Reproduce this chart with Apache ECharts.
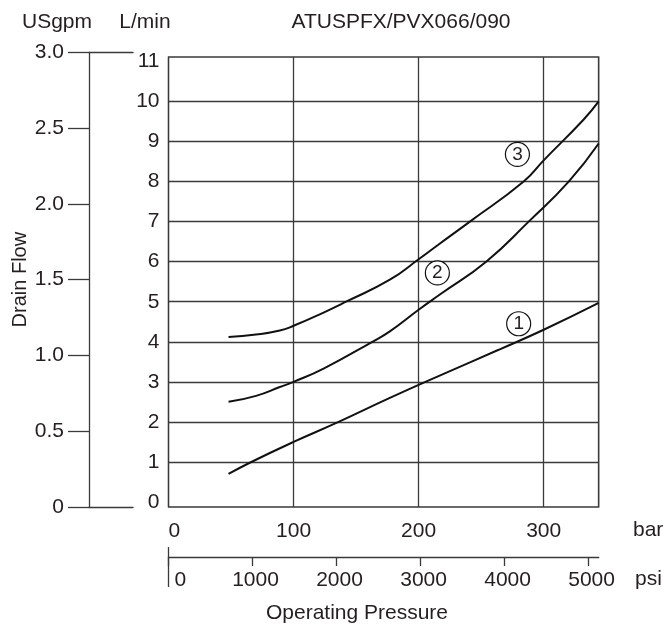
<!DOCTYPE html>
<html><head><meta charset="utf-8">
<script src="https://cdn.jsdelivr.net/npm/echarts@6/dist/echarts.min.js"></script>
<style>html,body{margin:0;padding:0;background:#fff}#c{width:667px;height:634px}</style>
</head><body><div id="c"></div>
<script>
// ---- data ----
const chartTitle = 'ATUSPFX/PVX066/090';
const curve1Pressure = [48, 65, 100, 136, 177, 220, 264, 300, 344];
const curve1Flow     = [0.7, 0.98, 1.5, 2.0, 2.6, 3.2, 3.8, 4.3, 4.97];
const curve2Pressure = [48, 70, 89, 100, 124, 163, 177, 200, 217, 254, 288, 320, 344];
const curve2Flow     = [2.5, 2.65, 2.87, 3.0, 3.33, 4.0, 4.26, 4.8, 5.18, 6.0, 7.0, 8.0, 8.95];
const curve3Pressure = [48, 70, 89, 100, 124, 142, 177, 200, 216, 241, 284, 300, 332, 344];
const curve3Flow     = [4.12, 4.18, 4.28, 4.4, 4.73, 5.0, 5.55, 6.06, 6.43, 7.0, 8.0, 8.53, 9.55, 10.0];
const markerLabels   = ['1', '2', '3'];
const markerPressure = [280, 215, 279];
const markerFlow     = [4.45, 5.72, 8.68];
const lminTicks  = [1, 2, 3, 4, 5, 6, 7, 8, 9, 10];
const lminLabels = [0, 1, 2, 3, 4, 5, 6, 7, 8, 9, 10, 11];
const barMax = 344, psiMax = 5120, gpmMax = 3;

// ---- style ----
const FONT = "'Liberation Sans', Arial, sans-serif";
const TXT = '#231f20', LINE = '#3a3a3a';
const txt = (size) => ({ fontFamily: FONT, fontSize: size, color: TXT, fontWeight: 'normal' });
const ttl = (text, left, top, align) => ({ text, left, top, padding: 0, textAlign: align || 'left', textStyle: txt(21) });

const zip = (xs, ys) => xs.map((x, i) => [x, ys[i]]);

const chart = echarts.init(document.getElementById('c'), null, { renderer: 'canvas' });
const option = {
  animation: false,
  backgroundColor: '#fff',
  title: [
    ttl(chartTitle, 401, 12, 'center'),
    ttl('USgpm', 57, 12, 'center'),
    ttl('L/min', 145, 12, 'center'),
    ttl('bar', 633, 520),
    ttl('psi', 635, 569),
    ttl('Operating Pressure', 357, 603, 'center')
  ],
  grid: [
    { left: 168.5, right: 68.3, top: 57, bottom: 127, show: true, borderColor: LINE, borderWidth: 1.3, backgroundColor: 'transparent', outerBoundsMode: 'none' },
    { left: 89, width: 44, top: 52.3, bottom: 127, show: false, outerBoundsMode: 'none' }
  ],
  xAxis: [
    { gridIndex: 0, type: 'value', position: 'bottom', min: 0, max: barMax, interval: 100,
      axisLine: { show: false }, axisTick: { show: false },
      splitLine: { show: true, lineStyle: { color: LINE, width: 1.3 } },
      axisLabel: { ...txt(21), margin: 14, showMaxLabel: false, alignMinLabel: 'left', formatter: v => String(v) } },
    { gridIndex: 0, type: 'value', position: 'bottom', offset: 50, min: 0, max: psiMax, interval: 1000,
      axisLine: { show: true, lineStyle: { color: LINE, width: 1.3 } },
      axisTick: { show: true, length: 9, lineStyle: { color: LINE, width: 1.3 } },
      splitLine: { show: false },
      axisLabel: { ...txt(21), margin: 13, showMaxLabel: false, alignMinLabel: 'left', padding: [0, 0, 0, 6], formatter: v => String(v) } },
    { gridIndex: 1, type: 'value', position: 'bottom', min: 0, max: 1,
      axisLine: { show: true, lineStyle: { color: LINE, width: 1.3 } },
      axisTick: { show: false }, axisLabel: { show: false }, splitLine: { show: false } },
    { gridIndex: 1, type: 'value', position: 'top', min: 0, max: 1,
      axisLine: { show: true, lineStyle: { color: LINE, width: 1.3 } },
      axisTick: { show: false }, axisLabel: { show: false }, splitLine: { show: false } }
  ],
  yAxis: [
    { gridIndex: 0, type: 'value', position: 'left', min: -0.125, max: 11.11,
      axisLine: { show: false },
      axisTick: { show: false, customValues: lminTicks },
      splitLine: { show: true, lineStyle: { color: LINE, width: 1.3 } },
      axisLabel: { ...txt(21), margin: 9, customValues: lminLabels } },
    { gridIndex: 1, type: 'value', position: 'left', min: 0, max: gpmMax, interval: 0.5,
      name: 'Drain Flow', nameLocation: 'middle', nameRotate: 90, nameGap: 57,
      nameTextStyle: txt(20),
      axisLine: { show: true, lineStyle: { color: LINE, width: 1.3 } },
      axisTick: { show: true, length: 21, lineStyle: { color: LINE, width: 1.3 } },
      splitLine: { show: false },
      axisLabel: { ...txt(21), margin: 25, formatter: v => v === 0 ? '0' : v.toFixed(1) } }
  ],
  series: [
    ...[[curve1Pressure, curve1Flow], [curve2Pressure, curve2Flow], [curve3Pressure, curve3Flow]].map(([p, f]) => ({
      type: 'line', xAxisIndex: 0, yAxisIndex: 0, data: zip(p, f),
      smooth: 0.5, showSymbol: false, symbol: 'none',
      lineStyle: { color: '#111', width: 2 }, z: 3
    })),
    { type: 'scatter', xAxisIndex: 0, yAxisIndex: 0, z: 5,
      data: markerLabels.map((l, i) => ({ value: [markerPressure[i], markerFlow[i]], name: l })),
      symbol: 'circle', symbolSize: 24,
      itemStyle: { color: '#fff', borderColor: '#111', borderWidth: 1.2, opacity: 1 },
      label: { show: true, position: 'inside', formatter: p => p.name, ...txt(19) } }
  ]
};
chart.setOption(option);

// long reference stroke at psi origin
const x0 = chart.convertToPixel({ xAxisIndex: 1 }, 0);
const yb = chart.convertToPixel({ gridIndex: 0 }, [0, -0.125])[1];
chart.setOption({ graphic: [{ type: 'line', shape: { x1: x0, y1: yb + 40, x2: x0, y2: yb + 80 }, style: { stroke: LINE, lineWidth: 1.3 }, silent: true }] });
</script></body></html>
